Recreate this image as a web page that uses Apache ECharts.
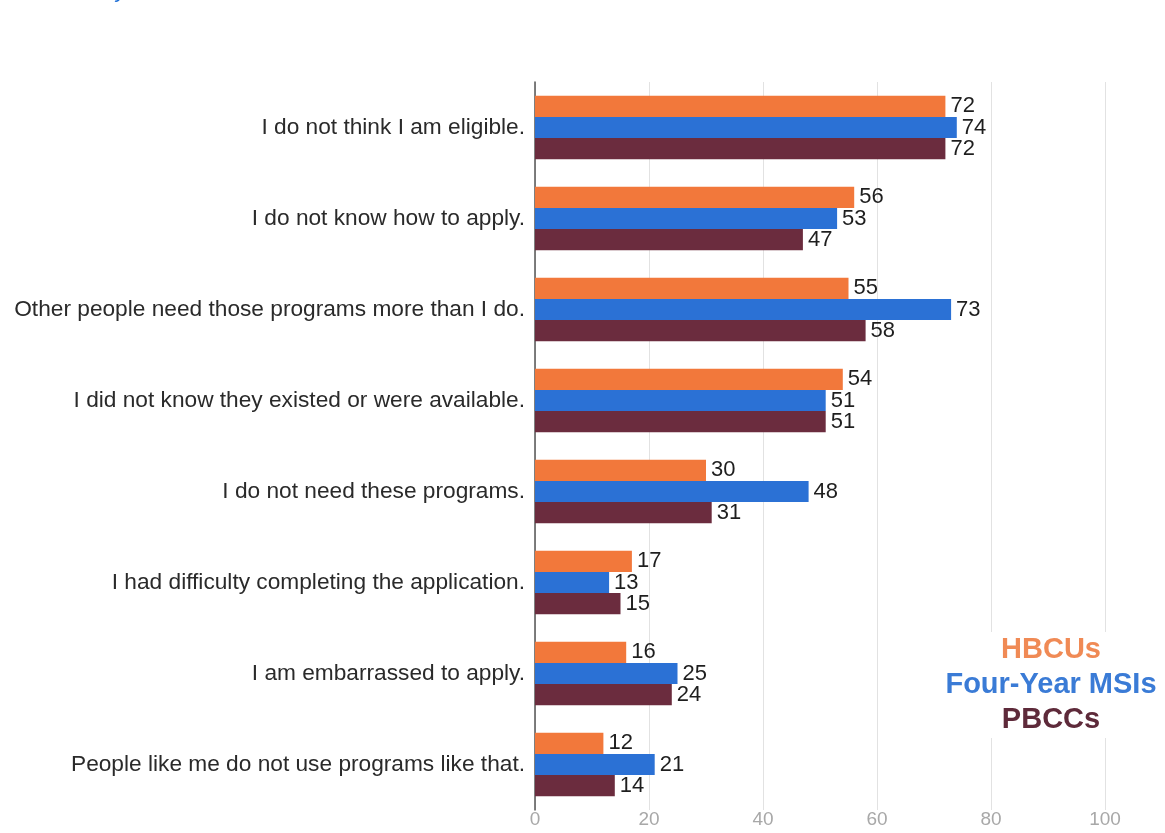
<!DOCTYPE html>
<html>
<head>
<meta charset="utf-8">
<title>Reasons for not using assistance programs</title>
<script src="https://cdn.jsdelivr.net/npm/echarts@6/dist/echarts.min.js"></script>
<style>
  html, body { margin: 0; padding: 0; background: #ffffff; }
  #chart { width: 1165px; height: 833px; }
</style>
</head>
<body>
<div id="chart"></div>
<script>
// Survey reasons (top to bottom)
const reasons = [
  'I do not think I am eligible.',
  'I do not know how to apply.',
  'Other people need those programs more than I do.',
  'I did not know they existed or were available.',
  'I do not need these programs.',
  'I had difficulty completing the application.',
  'I am embarrassed to apply.',
  'People like me do not use programs like that.'
];

// Percent of respondents by institution type
const hbcus     = [72, 56, 55, 54, 30, 17, 16, 12];
const fourYear  = [74, 53, 73, 51, 48, 13, 25, 21];
const pbccs     = [72, 47, 58, 51, 31, 15, 24, 14];

const seriesNames = ['HBCUs', 'Four-Year MSIs', 'PBCCs'];
const xTicks = [0, 20, 40, 60, 80, 100];

const colors = ['#F2783B', '#2B71D5', '#6B2C3E'];
const legendColors = ['#F08A55', '#3A7BD6', '#5E2A3A'];
const FONT = '"Liberation Sans", Arial, Helvetica, sans-serif';

const chart = echarts.init(document.getElementById('chart'), null, { renderer: 'canvas' });

function barSeries(name, data, color) {
  return {
    name: name,
    type: 'bar',
    data: data,
    barGap: '0%',
    barCategoryGap: '30%',
    itemStyle: { color: color },
    label: {
      show: true,
      position: 'right',
      distance: 5,
      color: '#1e1e1e',
      fontFamily: FONT,
      fontSize: 22
    },
    emphasis: { disabled: true }
  };
}

// Colored series names stacked at the lower right
function legendText(i, y) {
  return {
    type: 'text',
    x: 1051,
    y: y,
    z: 10,
    style: {
      text: seriesNames[i],
      fill: legendColors[i],
      font: 'bold 29px ' + FONT,
      textAlign: 'center',
      textVerticalAlign: 'middle'
    }
  };
}

chart.setOption({
  animation: false,
  backgroundColor: '#ffffff',
  grid: { left: 535, right: 60, top: 82, bottom: 23, containLabel: false },
  xAxis: {
    type: 'value',
    min: 0,
    max: 100,
    interval: 20,
    axisLine: { show: false },
    axisTick: { show: false },
    splitLine: { show: true, lineStyle: { color: '#e2e2e2', width: 1 } },
    axisLabel: {
      color: '#a8a8a8',
      fontFamily: FONT,
      fontSize: 19,
      margin: 0,
      formatter: function (v) { return xTicks.indexOf(v) >= 0 ? String(v) : ''; }
    }
  },
  yAxis: {
    type: 'category',
    data: reasons,
    inverse: true,
    axisLine: { show: true, lineStyle: { color: '#555', width: 1.5 } },
    axisTick: { show: false },
    axisLabel: {
      color: '#2a2a2a',
      fontFamily: FONT,
      fontSize: 22.7,
      margin: 10
    }
  },
  graphic: [
    {
      // white panel behind the series names
      type: 'rect',
      z: 5,
      shape: { x: 940, y: 632, width: 222, height: 106 },
      style: { fill: '#ffffff' }
    },
    legendText(0, 650),
    legendText(1, 685),
    legendText(2, 720),
    {
      type: 'text',
      x: 116,
      y: -20,
      style: {
        text: 'y',
        fill: '#1f6fd6',
        font: 'italic 22px ' + FONT
      }
    }
  ],
  series: [
    barSeries(seriesNames[0], hbcus, colors[0]),
    barSeries(seriesNames[1], fourYear, colors[1]),
    barSeries(seriesNames[2], pbccs, colors[2])
  ]
});
</script>
</body>
</html>
